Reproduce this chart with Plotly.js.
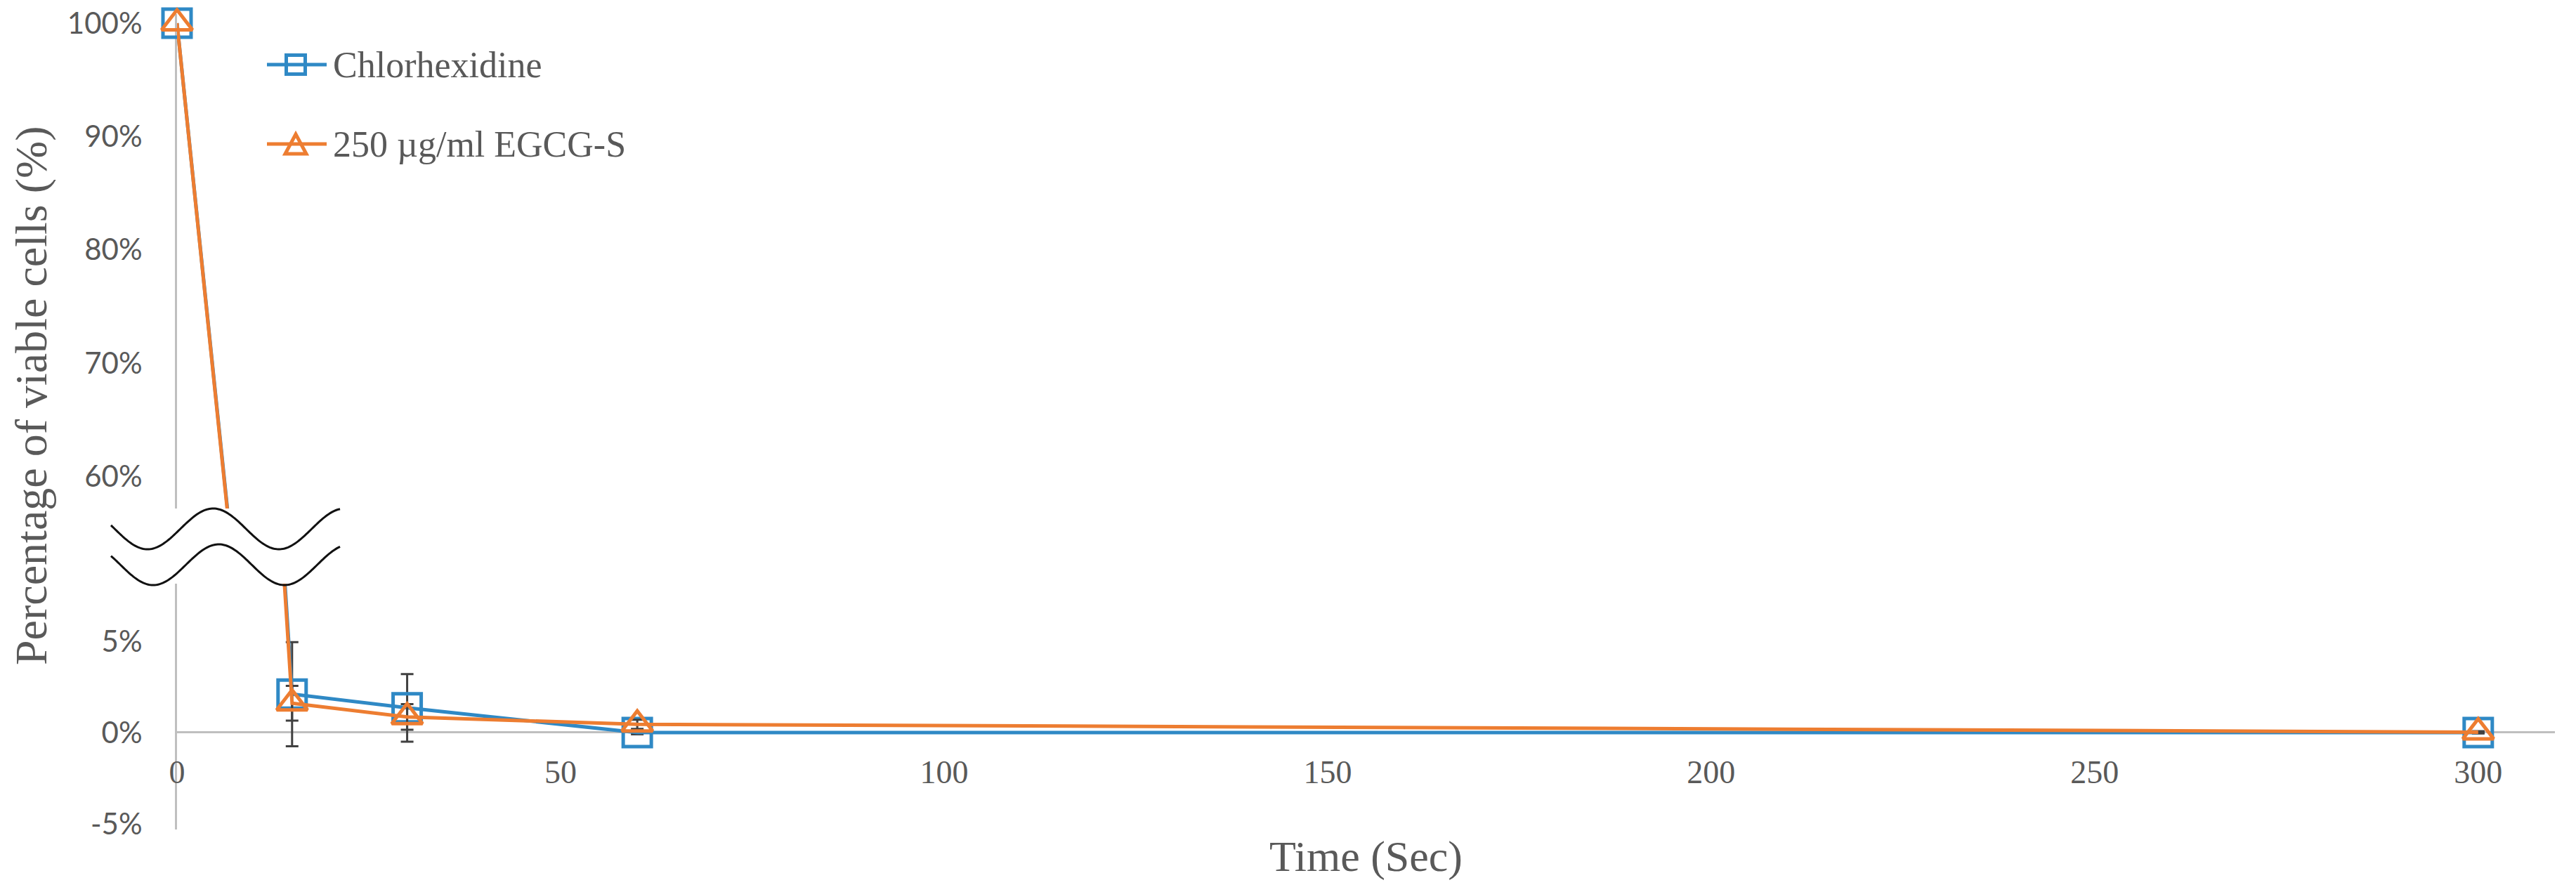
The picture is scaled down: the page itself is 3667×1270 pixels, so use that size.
<!DOCTYPE html>
<html><head><meta charset="utf-8">
<script src="https://cdn.plot.ly/plotly-3.0.1.min.js"></script>
<style>html,body{margin:0;padding:0;background:#fff;} #chart{width:3667px;height:1270px;}</style>
</head><body><div id="chart"></div>
<script>
// ---- data ----
const timeSec = [0, 15, 30, 60, 300];
const chlorhexidine = [100, 2.1, 1.35, 0.0, 0.0];
const chlorhexidineErr = [0, 2.85, 1.85, 0.1, 0.05];
const egcg = [100, 1.6, 0.85, 0.45, 0.02];
const egcgErr = [0, 0.95, 0.7, 0.25, 0.05];
const seriesNames = ['Chlorhexidine', '250 µg/ml EGCG-S'];
const xTicks = [0, 50, 100, 150, 200, 250, 300];
const yTicksLow = [-5, 0, 5];
const yTicksHigh = [60, 70, 80, 90, 100];
const xRange = [0, 310];
const lowRange = [-5.31, 8.15];
const highRange = [57.15, 100.81];

// ---- geometry ----
const W = 3667, H = 1270;
const M = {l: 252, r: 30, t: 20, b: 89};
const PW = W - M.l - M.r, PH = H - M.t - M.b;
const px2x = px => (px - M.l) / PW;
const px2y = py => (H - M.b - py) / PH;
const lowDomain = [0, px2y(831)];
const highDomain = [px2y(724), 1];
const zeroPos = lowDomain[0] + (0 - lowRange[0]) / (lowRange[1] - lowRange[0]) * (lowDomain[1] - lowDomain[0]);

const BLUE = '#2F89C5', ORANGE = '#ED7D31', GREY = '#BFBFBF', TXT = '#595959';
const serif = 'Liberation Serif';

function trace(name, y, err, color, symbol, size, axis) {
  const t = {
    type: 'scatter', mode: 'lines+markers', name: name, x: timeSec, y: y,
    yaxis: axis, showlegend: false,
    line: {color: color, width: 5},
    marker: {symbol: symbol, size: size, color: color, line: {width: 5, color: color}}
  };
  if (axis === 'y') {
    t.error_y = {type: 'data', array: err, visible: true, color: '#404040', thickness: 3, width: 9};
    t.cliponaxis = true;
  } else {
    t.cliponaxis = false;
  }
  return t;
}

const data = [
  trace(seriesNames[0], chlorhexidine, chlorhexidineErr, BLUE, 'square-open', 40, 'y'),
  trace(seriesNames[1], egcg, egcgErr, ORANGE, 'triangle-up-open', 38, 'y'),
  trace(seriesNames[0], chlorhexidine, null, BLUE, 'square-open', 40, 'y2'),
  trace(seriesNames[1], egcg, null, ORANGE, 'triangle-up-open', 38, 'y2')
];

// axis-break waves
function wave(cy, troughX) {
  let d = '';
  for (let x = 158; x <= 484; x += 2) {
    const y = cy + 29 * Math.cos(2 * Math.PI * (x - troughX) / 187);
    d += (d ? ' L' : 'M') + px2x(x).toFixed(5) + ',' + px2y(y).toFixed(5);
  }
  return d;
}

const shapes = [
  {type: 'path', xref: 'paper', yref: 'paper', path: wave(753, 397), line: {color: '#111', width: 3}},
  {type: 'path', xref: 'paper', yref: 'paper', path: wave(804, 405), line: {color: '#111', width: 3}},
  // legend symbols
  {type: 'line', xref: 'paper', yref: 'paper', x0: px2x(380), x1: px2x(465), y0: px2y(92), y1: px2y(92), line: {color: BLUE, width: 5}},
  {type: 'rect', xref: 'paper', yref: 'paper', xsizemode: 'pixel', ysizemode: 'pixel', xanchor: px2x(421), yanchor: px2y(92),
   x0: -13.5, x1: 13.5, y0: -13.5, y1: 13.5, line: {color: BLUE, width: 5}},
  {type: 'line', xref: 'paper', yref: 'paper', x0: px2x(380), x1: px2x(465), y0: px2y(205), y1: px2y(205), line: {color: ORANGE, width: 5}},
  {type: 'path', xref: 'paper', yref: 'paper', xsizemode: 'pixel', ysizemode: 'pixel', xanchor: px2x(421), yanchor: px2y(205),
   path: 'M-15,-14 L15,-14 L0,14 Z', line: {color: ORANGE, width: 5}}
];

const annotations = [
  {text: 'Percentage of viable cells (%)', xref: 'paper', yref: 'paper', x: px2x(44), y: px2y(563),
   textangle: -90, showarrow: false, xanchor: 'center', yanchor: 'middle', font: {family: serif, size: 64, color: TXT}},
  {text: seriesNames[0], xref: 'paper', yref: 'paper', x: px2x(472), y: px2y(92), showarrow: false,
   xanchor: 'left', yanchor: 'middle', font: {family: serif, size: 52, color: TXT}},
  {text: seriesNames[1], xref: 'paper', yref: 'paper', x: px2x(472), y: px2y(205), showarrow: false,
   xanchor: 'left', yanchor: 'middle', font: {family: serif, size: 52, color: TXT}}
];

const yCommon = {
  anchor: 'x', showline: true, linecolor: GREY, linewidth: 3, showgrid: false, ticks: '',
  tickfont: {family: 'Lato', size: 42, color: TXT}, layer: 'below traces', fixedrange: true, ticklabelstandoff: 38
};

const layout = {
  width: W, height: H, margin: M, paper_bgcolor: '#fff', plot_bgcolor: 'rgba(0,0,0,0)',
  showlegend: false,
  xaxis: {
    range: xRange, anchor: 'free', position: zeroPos, showline: false, showgrid: false, zeroline: false,
    ticks: '', tickvals: xTicks, ticktext: xTicks.map(String),
    tickfont: {family: serif, size: 46, color: TXT}, ticklabelstandoff: 25,
    title: {text: 'Time (Sec)', font: {family: serif, size: 62, color: TXT}, standoff: 72}
  },
  yaxis: Object.assign({}, yCommon, {
    domain: lowDomain, range: lowRange, tickvals: yTicksLow, ticktext: yTicksLow.map(v => v + '%'),
    zeroline: true, zerolinecolor: GREY, zerolinewidth: 3
  }),
  yaxis2: Object.assign({}, yCommon, {
    domain: highDomain, range: highRange, tickvals: yTicksHigh, ticktext: yTicksHigh.map(v => v + '%'),
    zeroline: false
  }),
  shapes: shapes,
  annotations: annotations
};

Plotly.newPlot('chart', data, layout, {displayModeBar: false, staticPlot: true});
</script></body></html>
